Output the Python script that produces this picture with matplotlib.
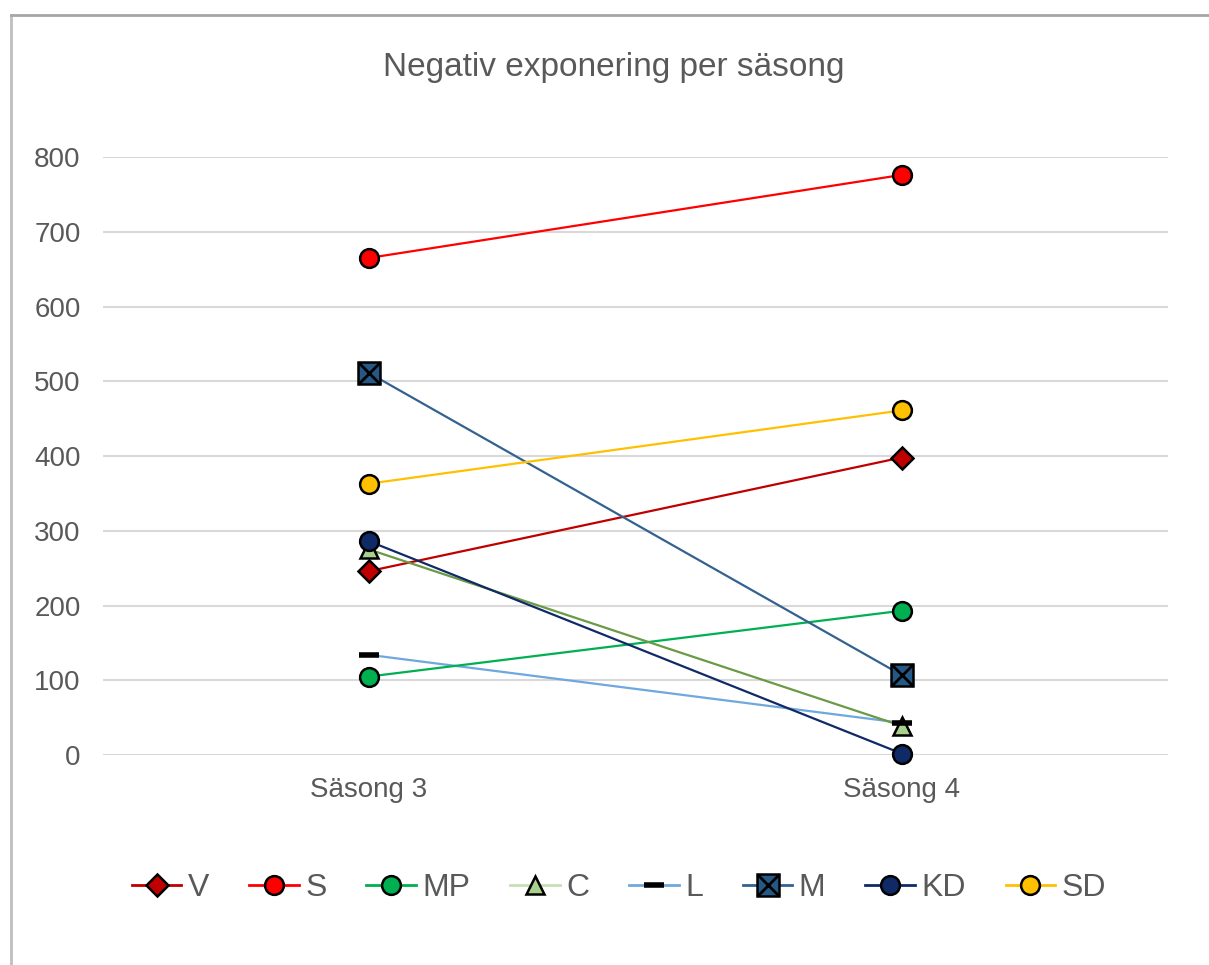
import matplotlib.pyplot as plt
from matplotlib.lines import Line2D

plt.rcParams['font.family'] = ['Liberation Sans', 'DejaVu Sans']

seasons = ['Säsong 3', 'Säsong 4']
parties = ['V', 'S', 'MP', 'C', 'L', 'M', 'KD', 'SD']
V = [246, 398]
S = [665, 776]
MP = [105, 193]
C = [275, 39]
L = [134, 43]
M = [511, 107]
KD = [286, 2]
SD = [363, 461]
values = [V, S, MP, C, L, M, KD, SD]

line_colors = ['#C00000', '#FF0000', '#00B050', '#6A9A45', '#6FA8DC', '#33628F', '#0F2A66', '#FFC000']
legend_line_colors = ['#C00000', '#FF0000', '#00B050', '#C5E0B4', '#6FA8DC', '#33628F', '#0F2A66', '#FFC000']
face_colors = ['#C00000', '#FF0000', '#00B050', '#A9D18E', 'black', '#255884', '#0F2A66', '#FFC000']
markers = ['D', 'o', 'o', '^', '_', 's', 'o', 'o']
sizes = [11, 13.5, 13.5, 13, 14, 16, 13.5, 13.5]

text_gray = '#595959'

fig = plt.figure(figsize=(12.09, 9.65), dpi=100)
ax = fig.add_axes([0.085, 0.2176, 0.881, 0.6197])

x = list(range(len(seasons)))
handles = []
for i, name in enumerate(parties):
    mk = markers[i]
    if mk == '_':
        ax.plot(x, values[i], color=line_colors[i], lw=1.6, zorder=3)
        ax.plot(x, values[i], ls='none', marker='_', ms=sizes[i], mew=4,
                color='black', zorder=4, clip_on=False)
        h = Line2D([], [], color=legend_line_colors[i], lw=2, marker='_',
                   ms=sizes[i], mew=4, mec='black')
    else:
        ax.plot(x, values[i], color=line_colors[i], lw=1.6, marker=mk,
                ms=sizes[i], mfc=face_colors[i], mec='black', mew=1.8,
                zorder=3 + i * 0.1, clip_on=False)
        h = Line2D([], [], color=legend_line_colors[i], lw=2, marker=mk,
                   ms=sizes[i], mfc=face_colors[i], mec='black', mew=1.8)
        if name == 'M':
            ax.plot(x, values[i], ls='none', marker='x', ms=sizes[i] * 0.95,
                    mew=2, color='black', zorder=5, clip_on=False)
            h = (h, Line2D([], [], ls='none', marker='x', ms=sizes[i] * 0.95,
                           mew=2, color='black'))
    handles.append(h)

ax.set_xlim(-0.5, 1.5)
ax.set_ylim(0, 800)
ax.set_yticks(range(0, 801, 100))
ax.set_xticks(x)
ax.set_xticklabels(seasons)
ax.grid(axis='y', color='#D9D9D9', lw=1.5)
ax.set_axisbelow(True)
for sp in ax.spines.values():
    sp.set_visible(False)
ax.tick_params(axis='both', length=0, labelsize=20, labelcolor=text_gray)
ax.tick_params(axis='y', pad=16)
ax.tick_params(axis='x', pad=16)

fig.text(0.508, 0.930, 'Negativ exponering per säsong', ha='center', va='center',
         fontsize=24, color=text_gray)

leg = fig.legend(handles, parties, loc='center', bbox_to_anchor=(0.512, 0.080),
                 ncol=8, frameon=False, fontsize=23, labelcolor=text_gray,
                 handlelength=1.55, handletextpad=0.2, columnspacing=1.25)

# outer chart border
fig.add_artist(Line2D([0.0091, 0.0091], [0, 0.984], color='#BFBFBF', lw=2, transform=fig.transFigure))
fig.add_artist(Line2D([0.0091, 1], [0.984, 0.984], color='#A6A6A6', lw=2, transform=fig.transFigure))

fig.savefig('out.png', dpi=100)
